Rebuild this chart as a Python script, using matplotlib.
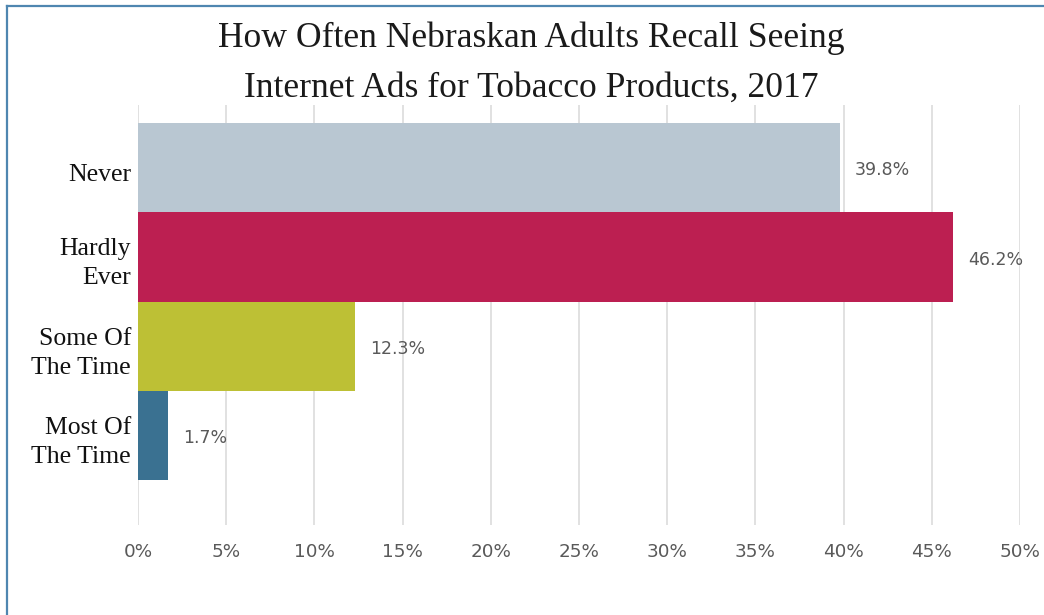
import matplotlib
matplotlib.use("Agg")
import matplotlib.pyplot as plt
from matplotlib.lines import Line2D
from matplotlib.transforms import ScaledTranslation

categories = ["Never", "Hardly\nEver", "Some Of\nThe Time", "Most Of\nThe Time"]
values = [39.8, 46.2, 12.3, 1.7]
bar_colors = ["#B9C7D2", "#BC1F51", "#BDC035", "#3A7191"]
x_ticks = [0, 5, 10, 15, 20, 25, 30, 35, 40, 45, 50]
x_tick_labels = [f"{t}%" for t in x_ticks]
title_lines = ["How Often Nebraskan Adults Recall Seeing",
               "Internet Ads for Tobacco Products, 2017"]

W, H = 1044, 615
fig = plt.figure(figsize=(W / 100, H / 100), dpi=100)
fig.patch.set_facecolor("white")

ax = fig.add_axes([138 / W, 1 - 525 / H, (1020 - 138) / W, (525 - 105) / H])

ypos = list(range(len(categories)))
ax.barh(ypos, values, height=1.0, color=bar_colors, zorder=3)

ax.set_xlim(0, 50)
ax.set_ylim(4.0, -0.7)
ax.set_xticks(x_ticks)
ax.set_xticklabels(x_tick_labels, fontsize=13.2, color="#595959",
                   family="DejaVu Sans")
ax.set_yticks(ypos)
ax.set_yticklabels(categories, fontsize=18.5, color="#111111",
                   family="Liberation Serif", linespacing=1.4)
ax.tick_params(axis="x", length=0, pad=13)
ax.tick_params(axis="y", length=0, pad=5)
ax.grid(axis="x", color="#D9D9D9", linewidth=1.1, zorder=0)
ax.grid(axis="y", visible=False)
for s in ax.spines.values():
    s.set_visible(False)

# nudge category labels downward (single-line more than two-line)
for lbl in ax.get_yticklabels():
    dy = -5 if "\n" not in lbl.get_text() else -1
    lbl.set_transform(lbl.get_transform()
                      + ScaledTranslation(0, dy / 100, fig.dpi_scale_trans))

for y, v in zip(ypos, values):
    ax.text(v + 0.85, y + 0.03, f"{v}%", va="center", ha="left",
            fontsize=12.5, color="#595959", family="DejaVu Sans", zorder=4)

fig.text(531 / W, 1 - 38 / H, title_lines[0], ha="center", va="center",
         fontsize=25.6, color="#1A1A1A", family="Liberation Serif")
fig.text(531 / W, 1 - 88 / H, title_lines[1], ha="center", va="center",
         fontsize=25.6, color="#1A1A1A", family="Liberation Serif")

# outer frame (left and top edges visible)
frame_color = "#4F86B0"
fig.add_artist(Line2D([6.5 / W, 6.5 / W], [1 - 5.5 / H, 0], transform=fig.transFigure,
                      color=frame_color, linewidth=1.6))
fig.add_artist(Line2D([6.5 / W, 1], [1 - 5.5 / H, 1 - 5.5 / H], transform=fig.transFigure,
                      color=frame_color, linewidth=1.6))

fig.savefig("out.png", dpi=100, facecolor="white")
